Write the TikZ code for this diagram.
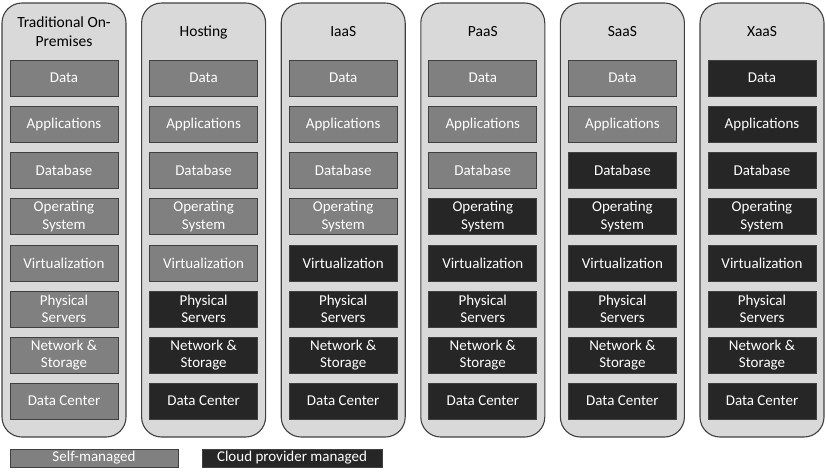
\documentclass[tikz,border=0pt]{standalone}
\usepackage{fontspec}
\setmainfont{Carlito}
\begin{document}
\begin{tikzpicture}[x=1pt,y=-1pt,
  colbox/.style={draw=black!75,line width=1.1pt,fill=black!15,rounded corners=20pt},
  selfbox/.style={draw=black!75,line width=0.8pt,fill=black!50,minimum width=108pt,minimum height=36pt,text=white,font=\fontsize{15}{17.5}\selectfont,align=center,inner sep=0pt},
  cloudbox/.style={selfbox,fill=black!85},
  headtxt/.style={font=\fontsize{15.5}{19}\selectfont,align=center,text=black}]
\useasboundingbox (0,0) rectangle (826,472);
\def\rowy{{78,124.5,170.5,216.5,263,309,355,401}}
\foreach \i/\name/\ncloud in {0/Traditional On-\\Premises/0,1/Hosting/3,2/IaaS/4,3/PaaS/5,4/SaaS/6,5/XaaS/8}{
  \pgfmathsetmacro{\cx}{64+139.6*\i}
  \path[colbox] (\cx-62,3) rectangle (\cx+62,437);
  \node[headtxt] (h\i) at (\cx,32) {\name};
  \foreach \r/\lab in {0/Data,1/Applications,2/Database,3/Operating\\System,4/Virtualization,5/Physical\\Servers,6/Network \&\\Storage,7/Data Center}{
    \pgfmathsetmacro{\yy}{\rowy[\r]}
    \pgfmathtruncatemacro{\iscloud}{\r>=8-\ncloud ? 1 : 0}
    \ifnum\iscloud=1
      \node[cloudbox] (b\i-\r) at (\cx,\yy) {\lab};
    \else
      \node[selfbox] (b\i-\r) at (\cx,\yy) {\lab};
    \fi
  }
}
\node[selfbox,minimum width=168pt,minimum height=18pt] (legself) at (94,458) {Self-managed};
\node[cloudbox,minimum width=180pt,minimum height=18pt] (legcloud) at (292,458) {Cloud provider managed};
\end{tikzpicture}
\end{document}
